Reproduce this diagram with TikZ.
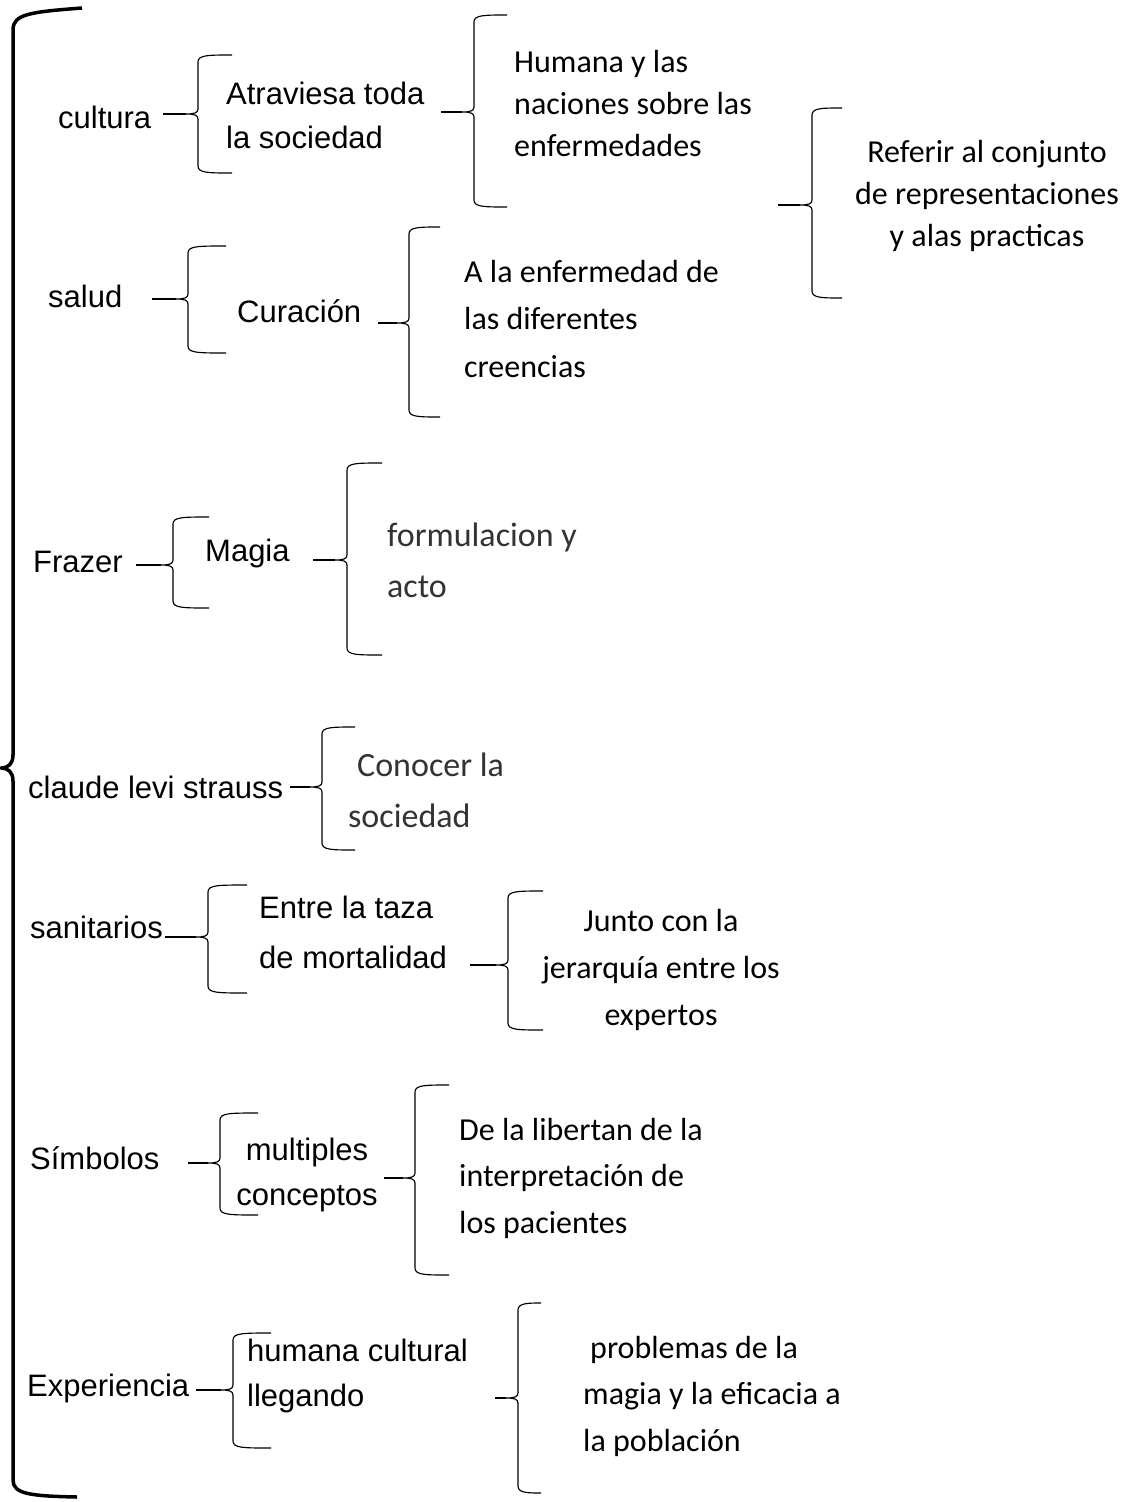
\documentclass[tikz,border=0pt]{standalone}
\usepackage{fontspec}
\setmainfont{Liberation Sans}
\newfontfamily\calfont{Carlito}
\newcommand\wbr[5]{% xv, xe, ytop, ymid, ybot
  \draw[brace] (#2,#3) .. controls (#1+10,#3) and (#1,#3) .. (#1,#3+7)
    -- (#1,#4-5) .. controls (#1,#4-1) and (#1-4,#4) .. (#1-12,#4)
    .. controls (#1-4,#4) and (#1,#4+1) .. (#1,#4+5)
    -- (#1,#5-7) .. controls (#1,#5) and (#1+10,#5) .. (#2,#5);}
\tikzset{
  ar/.style={font=\fontsize{31}{44}\selectfont, inner sep=0pt, align=left, anchor=west},
  ca/.style={font=\calfont\fontsize{32}{42}\selectfont, inner sep=0pt, align=left, anchor=west},
  cl/.style={font=\calfont\fontsize{34}{51}\selectfont, inner sep=0pt, align=left, anchor=west, text=black!80},
  brace/.style={line width=1.15pt, line join=round},
  stem/.style={line width=1.15pt},
}
\begin{document}
\begin{tikzpicture}[x=1pt,y=-1pt]
\useasboundingbox[fill=white] (0,0) rectangle (1123,1502);
% big brace
\draw[line width=3.5pt, line join=round]
  (82,8) .. controls (30,12) and (13,14) .. (13,30)
  -- (13,755) .. controls (13,764) and (8,768) .. (1,768)
  .. controls (8,768) and (13,772) .. (13,781)
  -- (13,1480) .. controls (13,1494) and (30,1496) .. (77,1497);

% texts (Arial)
\node[ar] (cultura) at (58,117) {cultura};
\node[ar] (atrav) at (226,115) {Atraviesa toda\\la sociedad};
\node[ar] (salud) at (48,296) {salud};
\node[ar] (curacion) at (237,311) {Curación};
\node[ar] (frazer) at (33,562) {Frazer};
\node[ar] (magia) at (205,553) {Magia};
\node[ar] (claude) at (28,787) {claude levi strauss};
\node[ar] (sanit) at (30,927) {sanitarios};
\node[ar, font=\fontsize{31}{50}\selectfont] (entre) at (259,932) {Entre la taza\\de mortalidad};
\node[ar] (simb) at (30,1158) {Símbolos};
\node[ar, align=center, anchor=center, font=\fontsize{31}{45}\selectfont] (mult) at (307,1175) {multiples\\conceptos};
\node[ar] (exper) at (27,1388) {Experiencia};
\node[ar, font=\fontsize{31}{45}\selectfont] (humcult) at (247,1376) {humana cultural\\llegando};

% texts (Calibri)
\node[ca] (humana) at (514,104) {Humana y las\\naciones sobre las\\enfermedades};
\node[ca, align=center, anchor=center] (referir) at (987,196) {Referir al conjunto\\de representaciones\\y alas practicas};
\node[ca, font=\calfont\fontsize{32}{47.5}\selectfont] (enferm) at (464,319) {A la enfermedad de\\las diferentes\\creencias};
\node[cl] (formul) at (387,560) {formulacion y\\acto};
\node[cl] (conocer) at (348,790) {\hspace{9pt}Conocer la\\sociedad};
\node[ca, align=center, anchor=center, font=\calfont\fontsize{32}{47}\selectfont] (junto) at (661,970) {Junto con la\\jerarquía entre los\\expertos};
\node[ca, font=\calfont\fontsize{32}{46.5}\selectfont] (libertan) at (459,1178) {De la libertan de la\\interpretación de\\los pacientes};
\node[ca, font=\calfont\fontsize{32}{46.5}\selectfont] (problemas) at (583,1396) {\hspace{7pt}problemas de la\\magia y la eficacia a\\la población};

% braces
\wbr{198}{232}{55}{114}{173}
\wbr{474}{507}{15}{112}{207}
\wbr{812}{842}{108}{205}{298}
\wbr{188}{226}{246}{299}{353}
\wbr{409}{440}{227}{323}{417}
\wbr{173}{209}{517}{565}{608}
\wbr{347}{382}{463}{560}{655}
\wbr{322}{355}{727}{787}{850}
\wbr{208}{247}{885}{937}{993}
\wbr{508}{543}{891}{965}{1030}
\wbr{220}{258}{1113}{1163}{1215}
\wbr{415}{449}{1085}{1178}{1275}
\wbr{233}{271}{1333}{1390}{1448}
\wbr{518}{541}{1303}{1398}{1493}

% stems
\coordinate (s1) at (163,114); \coordinate (t1) at (186,114);
\coordinate (s2) at (441,112); \coordinate (t2) at (462,112);
\coordinate (s3) at (778,205); \coordinate (t3) at (800,205);
\coordinate (s4) at (152,299); \coordinate (t4) at (176,299);
\coordinate (s5) at (378,323); \coordinate (t5) at (397,323);
\coordinate (s6) at (136,565); \coordinate (t6) at (161,565);
\coordinate (s7) at (313,560); \coordinate (t7) at (335,560);
\coordinate (s8) at (290,787); \coordinate (t8) at (310,787);
\coordinate (s9) at (165,937); \coordinate (t9) at (196,937);
\coordinate (s10) at (470,965); \coordinate (t10) at (496,965);
\coordinate (s11) at (188,1163); \coordinate (t11) at (208,1163);
\coordinate (s12) at (384,1178); \coordinate (t12) at (403,1178);
\coordinate (s13) at (196,1390); \coordinate (t13) at (221,1390);
\coordinate (s14) at (495,1398); \coordinate (t14) at (506,1398);
\foreach \i in {1,...,14} { \draw[stem] (s\i) -- (t\i); }
\end{tikzpicture}
\end{document}
